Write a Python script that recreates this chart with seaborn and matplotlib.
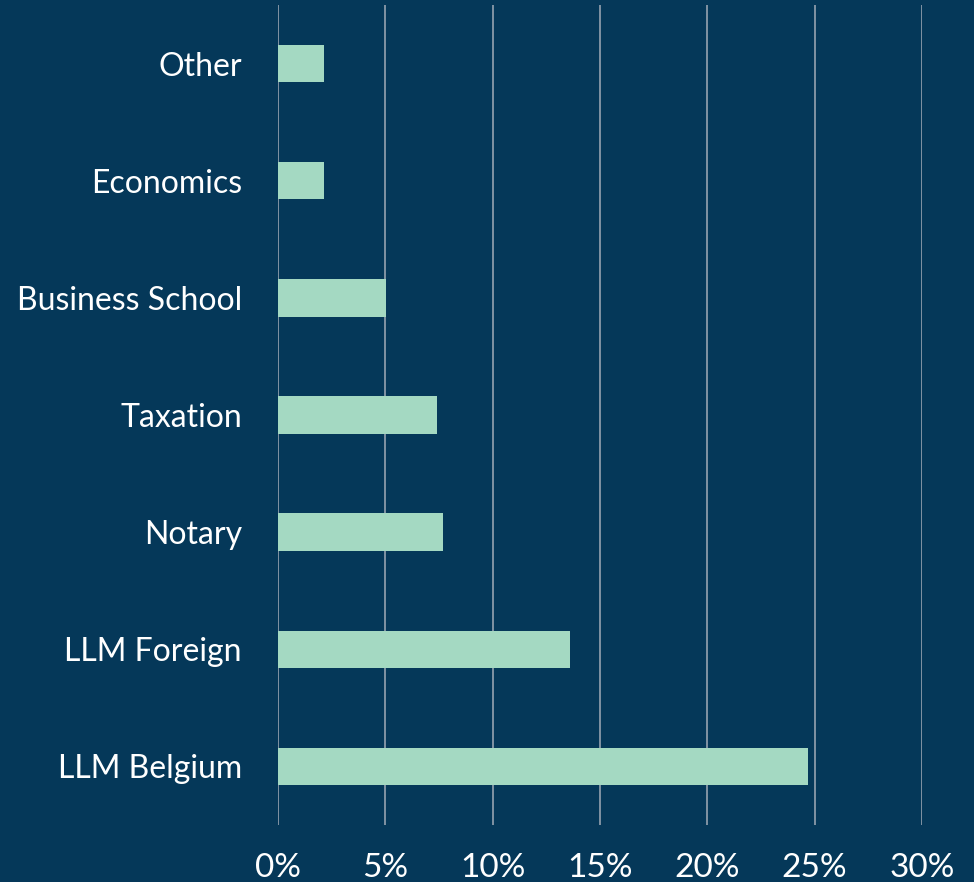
import pandas as pd
import matplotlib.pyplot as plt
import matplotlib.ticker as mticker
import seaborn as sns

# Chart data
programmes = ['Other', 'Economics', 'Business School', 'Taxation', 'Notary', 'LLM Foreign', 'LLM Belgium']
shares = [2.15, 2.15, 5.05, 7.4, 7.7, 13.6, 24.7]
x_ticks = [0, 5, 10, 15, 20, 25, 30]

# Colours
bg_color = '#053859'
bar_color = '#a4d9c2'
grid_color = '#8193a4'

df = pd.DataFrame({'programme': programmes, 'share': shares})

sns.set_style('white')
plt.rcParams['font.family'] = ['Lato', 'DejaVu Sans']

fig = plt.figure(figsize=(9.74, 8.82), dpi=100, facecolor=bg_color)
ax = fig.add_axes([0.2854, 0.0646, 0.6612, 0.9297])
ax.set_facecolor(bg_color)

sns.barplot(ax=ax, data=df, x='share', y='programme', order=programmes,
            color=bar_color, saturation=1, width=0.32, orient='h',
            linewidth=0, zorder=3)

ax.set_xlim(0, 30)
ax.set_xticks(x_ticks)
ax.xaxis.set_major_formatter(mticker.FuncFormatter(lambda v, p: '{:.0f}%'.format(v)))
ax.grid(axis='x', color=grid_color, linewidth=1.4, zorder=0)
ax.grid(axis='y', visible=False)
ax.set_axisbelow(True)
for s in ax.spines.values():
    s.set_visible(False)

ax.set_xlabel('')
ax.set_ylabel('')
ax.tick_params(axis='x', length=0, pad=20, labelsize=24, labelcolor='white')
ax.tick_params(axis='y', length=0, pad=26, labelsize=23, labelcolor='white')

plt.savefig('out.png', dpi=100, facecolor=bg_color)
